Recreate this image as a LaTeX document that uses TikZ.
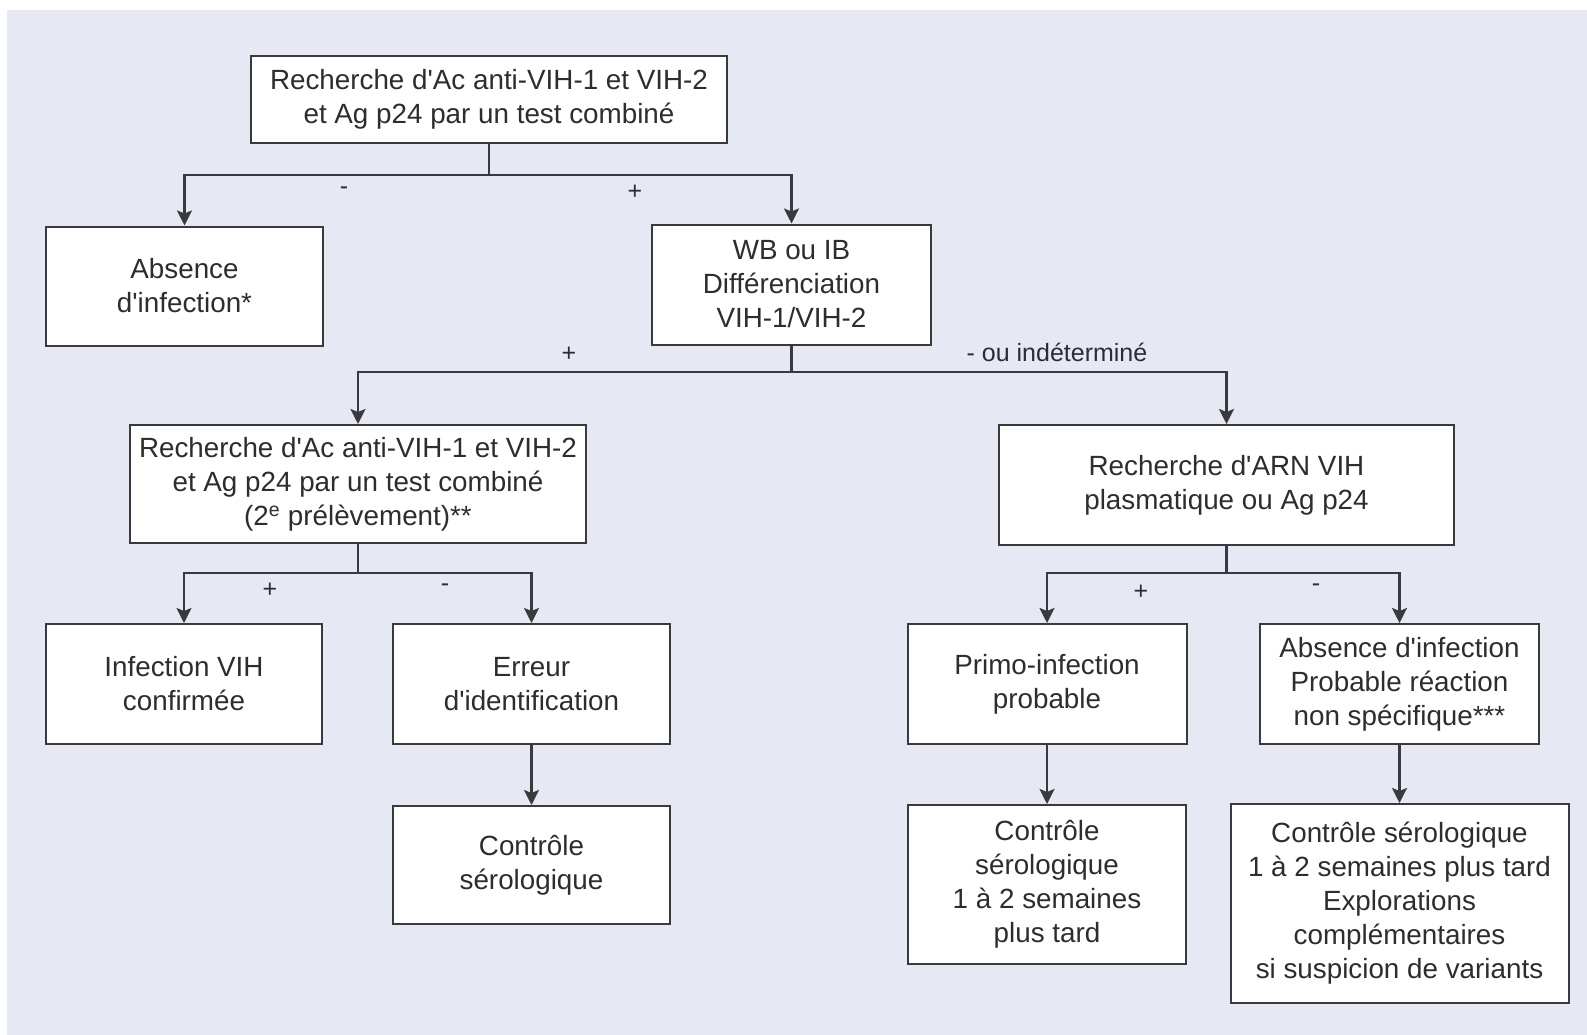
\documentclass[tikz,border=0pt]{standalone}
\usepackage{fontspec}
\setmainfont{Liberation Sans}
\usepackage{xcolor}
\usepackage{tikz}
\usetikzlibrary{arrows.meta}

\definecolor{bgcol}{RGB}{230,232,244}
\definecolor{linegray}{RGB}{58,58,62}
\definecolor{textgray}{RGB}{45,45,48}
\newcommand{\ap}{\textquotesingle}

\begin{document}
\begin{tikzpicture}[
    x=1pt, y=-1pt,
    block/.style={rectangle, draw=linegray, fill=white, line width=2pt, align=center, inner sep=0pt,
                  text=textgray, font=\fontsize{27.8}{34}\selectfont},
    arrow/.style={-{Stealth[length=15pt, width=15pt, inset=3pt]}, line width=2.5pt, draw=linegray},
    sign/.style={text=textgray, inner sep=0pt, font=\fontsize{25}{30}\selectfont}
]
    % background
    \useasboundingbox (0,0) rectangle (1587,1035);
    \fill[white] (0,0) rectangle (1587,1035);
    \fill[bgcol] (7,10) rectangle (1587,1035);

    % boxes
    \node[block, minimum width=476pt, minimum height=87pt] (comb1) at (489,99.5) {Recherche d\ap Ac anti-VIH-1 et VIH-2\\et Ag p24 par un test combiné};
    \node[block, minimum width=277pt, minimum height=119pt] (absinf) at (184.5,286) {Absence\\d\ap infection*};
    \node[block, minimum width=279pt, minimum height=120pt] (wbib) at (791.5,284.5) {WB ou IB\\Différenciation\\VIH-1/VIH-2};
    \node[block, minimum width=456pt, minimum height=118pt] (comb2) at (358,484) {Recherche d\ap Ac anti-VIH-1 et VIH-2\\et Ag p24 par un test combiné\\(2\textsuperscript{e} prélèvement)**};
    \node[block, minimum width=455pt, minimum height=120pt] (arn) at (1226.5,485) {Recherche d\ap ARN VIH\\plasmatique ou Ag p24};
    \node[block, minimum width=276pt, minimum height=120pt] (infvih) at (184,684) {Infection VIH\\confirmée};
    \node[block, minimum width=277pt, minimum height=120pt] (erreur) at (531.5,684) {Erreur\\d\ap identification};
    \node[block, minimum width=277pt, minimum height=118pt] (ctrlA) at (531.5,865) {Contrôle\\sérologique};
    \node[block, minimum width=279pt, minimum height=120pt] (primo) at (1047,684) {Primo-infection\\probable};
    \node[block, minimum width=279pt, minimum height=120pt] (absprob) at (1399.5,684) {Absence d\ap infection\\Probable réaction\\non spécifique***};
    \node[block, minimum width=278pt, minimum height=159pt] (ctrlB) at (1047,884.5) {Contrôle\\sérologique\\1 à 2 semaines\\plus tard};
    \node[block, minimum width=338pt, minimum height=199pt] (ctrlC) at (1399.5,903.5) {Contrôle sérologique\\1 à 2 semaines plus tard\\Explorations\\complémentaires\\si suspicion de variants};

    % connectors
    \coordinate (j1) at (comb1.south |- 0,175);
    \coordinate (j2) at (wbib.south |- 0,372);
    \coordinate (j3) at (comb2.south |- 0,573);
    \coordinate (j4) at (arn.south |- 0,573);

    \draw[arrow] (comb1.south) -- (j1) -| (absinf.north);
    \draw[arrow] (j1) -| (wbib.north);
    \draw[arrow] (wbib.south) -- (j2) -| (comb2.north);
    \draw[arrow] (j2) -| (arn.north);
    \draw[arrow] (comb2.south) -- (j3) -| (infvih.north);
    \draw[arrow] (j3) -| (erreur.north);
    \draw[arrow] (arn.south) -- (j4) -| (primo.north);
    \draw[arrow] (j4) -| (absprob.north);
    \draw[arrow] (erreur) -- (ctrlA);
    \draw[arrow] (primo) -- (ctrlB);
    \draw[arrow] (absprob) -- (ctrlC);

    % labels
    \node[sign] (neg1) at (344,191) {-};
    \node[sign] (pos1) at (635,192) {+};
    \node[sign] (pos2) at (569,354) {+};
    \node[sign] (neg2) at (1057,352) {- ou indéterminé};
    \node[sign] (pos3) at (270,590) {+};
    \node[sign] (neg3) at (445,588) {-};
    \node[sign] (pos4) at (1141,592) {+};
    \node[sign] (neg4) at (1316,588) {-};
\end{tikzpicture}
\end{document}
